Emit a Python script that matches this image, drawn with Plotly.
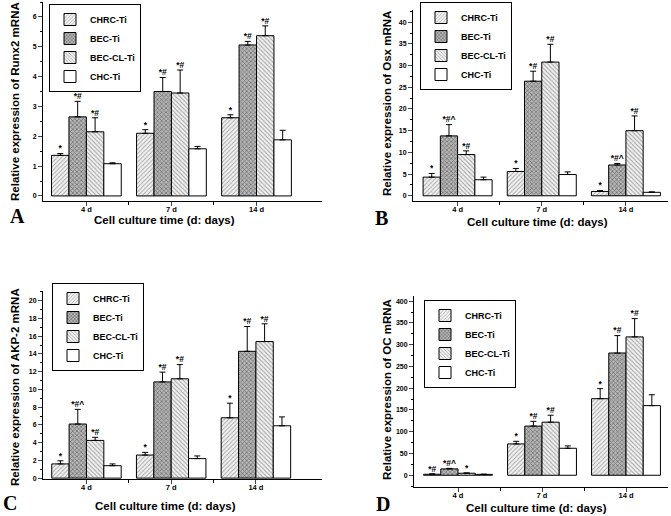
import plotly.graph_objects as go

# ---------------- data ----------------
times = ["4 d", "7 d", "14 d"]
groups = ["CHRC-Ti", "BEC-Ti", "BEC-CL-Ti", "CHC-Ti"]

runx2_vals = [[1.36, 2.10, 2.62], [2.65, 3.50, 5.06], [2.15, 3.45, 5.37], [1.08, 1.58, 1.88]]
runx2_errs = [[0.06, 0.12, 0.10], [0.52, 0.47, 0.12], [0.47, 0.77, 0.33], [0.03, 0.08, 0.32]]
runx2_marks = [["*", "*", "*"], ["*#", "*#", "*#"], ["*#", "*#", "*#"], ["", "", ""]]

osx_vals = [[4.3, 5.6, 1.0], [13.8, 26.4, 7.1], [9.5, 30.8, 15.0], [3.7, 4.9, 0.8]]
osx_errs = [[0.85, 0.7, 0.2], [2.6, 2.3, 0.35], [0.85, 4.1, 3.4], [0.6, 0.6, 0.1]]
osx_marks = [["*", "*", "*"], ["*#^", "*#", "*#^"], ["*#", "*#", "*#"], ["", "", ""]]

akp_vals = [[1.6, 2.6, 6.8], [6.1, 10.85, 14.3], [4.25, 11.2, 15.4], [1.4, 2.2, 5.9]]
akp_errs = [[0.35, 0.3, 1.65], [1.65, 1.1, 2.8], [0.35, 1.6, 2.0], [0.2, 0.3, 1.0]]
akp_marks = [["*", "*", "*"], ["*#^", "*#", "*#"], ["*#", "*#", "*#"], ["", "", ""]]

oc_vals = [[2.3, 72, 176], [14.6, 113, 281], [4.6, 122, 318], [2.0, 62, 160]]
oc_errs = [[1.0, 6, 23], [1.2, 11, 40], [0.8, 16, 42], [0.5, 5.5, 25]]
oc_marks = [["*#", "*", "*"], ["*#^", "*#", "*#"], ["*", "*#", "*#"], ["", "", ""]]

ytitles = ["Relative expression of Runx2 mRNA", "Relative expression of Osx mRNA",
           "Relative expression of AKP-2 mRNA", "Relative expression of OC mRNA"]
panel_letters = ["A", "B", "C", "D"]

# ---------------- styling ----------------
W, H = 671, 516
FONT = "Liberation Sans"
patterns = [
    dict(shape="/", fgcolor="#555555", bgcolor="#f2f2f2", size=3, solidity=0.3),
    dict(shape="x", fgcolor="#333333", bgcolor="#b5b5b5", size=3, solidity=0.45),
    dict(shape="\\", fgcolor="#555555", bgcolor="#f2f2f2", size=3, solidity=0.35),
    dict(shape="", fgcolor="white", bgcolor="white"),
]
bargap = 0.18
barw = (1 - bargap) / 4
xpos = [1, 2, 3]

# panel geometry in pixels: (x0, x1, ytop, ybottom), ranges
panels = [
    dict(px=(43, 322, 2, 201), xr=[0.49, 3.77], yr=[-0.17, 6.5], dtick=1, mdt=0.5,
         vals=runx2_vals, errs=runx2_errs, marks=runx2_marks,
         leg=(49, 4), ytit=(15, 102), xtit=(164, 220), letter=(17, 216)),
    dict(px=(413, 668, 10, 201), xr=[0.47, 3.5], yr=[-1.2, 42.8], dtick=5, mdt=2.5,
         vals=osx_vals, errs=osx_errs, marks=osx_marks,
         leg=(420, 2), ytit=(387, 104), xtit=(537, 222), letter=(382, 218)),
    dict(px=(43, 322, 291, 479), xr=[0.487, 3.78], yr=[-0.1, 21.1], dtick=2, mdt=1,
         vals=akp_vals, errs=akp_errs, marks=akp_marks,
         leg=(52, 283), ytit=(15, 387), xtit=(165, 506), letter=(10, 503)),
    dict(px=(414, 668, 296, 487), xr=[0.476, 3.5], yr=[-27, 412], dtick=50, mdt=25,
         vals=oc_vals, errs=oc_errs, marks=oc_marks,
         leg=(424, 300), ytit=(387, 390), xtit=(536, 508), letter=(383, 504)),
]

fig = go.Figure()
layout = dict(width=W, height=H, margin=dict(l=0, r=0, t=0, b=0, pad=0, autoexpand=False),
              paper_bgcolor="white", plot_bgcolor="white",
              barmode="group", bargap=bargap, bargroupgap=0,
              font=dict(family=FONT, color="black"), annotations=[])

for p_i, p in enumerate(panels):
    n = "" if p_i == 0 else str(p_i + 1)
    xa, ya = "x" + n, "y" + n
    legname = "legend" + n
    x0, x1, yt, yb = p["px"]
    for g_i, g in enumerate(groups):
        fig.add_trace(go.Bar(
            x=xpos, y=p["vals"][g_i], name=g, xaxis=xa, yaxis=ya,
            legend=legname, offsetgroup=str(g_i),
            marker=dict(color="white", line=dict(color="black", width=1),
                        pattern=patterns[g_i]),
            error_y=dict(type="data", symmetric=False, array=p["errs"][g_i],
                         arrayminus=[0, 0, 0], color="black", thickness=1, width=3),
        ))
        off = (g_i - 1.5) * barw
        fig.add_trace(go.Scatter(
            x=[x + off for x in xpos],
            y=[v + e for v, e in zip(p["vals"][g_i], p["errs"][g_i])],
            text=p["marks"][g_i], mode="text", textposition="top center",
            textfont=dict(size=8.5, family=FONT, weight="bold"),
            xaxis=xa, yaxis=ya, showlegend=False, hoverinfo="skip", cliponaxis=False,
        ))
    axfont = dict(size=7, family=FONT, weight="bold", color="black")
    layout["xaxis" + n] = dict(
        domain=[x0 / W, x1 / W], anchor=ya, range=p["xr"], automargin=False,
        tickvals=xpos, ticktext=times, ticks="outside", ticklen=4, tickwidth=1,
        ticklabelstandoff=-3,
        tickfont=dict(size=7.5, family=FONT, weight="bold", color="black"),
        showline=True, linecolor="black", linewidth=1, showgrid=False, zeroline=False,
        minor=dict(tickvals=[1.5, 2.5], ticks="outside", ticklen=3, tickcolor="black"),
    )
    layout["yaxis" + n] = dict(
        domain=[1 - yb / H, 1 - yt / H], anchor=xa, range=p["yr"], automargin=False,
        dtick=p["dtick"], tick0=0, ticks="outside", ticklen=4, tickwidth=1,
        tickfont=axfont, showline=True, linecolor="black", linewidth=1,
        showgrid=False, zeroline=False,
        minor=dict(dtick=p["mdt"], ticks="outside", ticklen=2, tickcolor="black"),
    )
    lx, ly = p["leg"]
    layout[legname] = dict(
        x=lx / W, y=1 - ly / H, xanchor="left", yanchor="top",
        bordercolor="black", borderwidth=1, bgcolor="white",
        font=dict(size=9, family=FONT, weight="bold", color="black"),
        tracegroupgap=0, itemwidth=30,
    )
    tx, ty = p["ytit"]
    layout["annotations"].append(dict(
        text=ytitles[p_i], x=tx / W, y=1 - ty / H, xref="paper", yref="paper",
        textangle=-90, showarrow=False, xanchor="center", yanchor="middle",
        font=dict(size=11.5, family=FONT, weight="bold")))
    cx, cy = p["xtit"]
    layout["annotations"].append(dict(
        text="Cell culture time (d: days)", x=cx / W, y=1 - cy / H,
        xref="paper", yref="paper", showarrow=False, xanchor="center", yanchor="middle",
        font=dict(size=11.5, family=FONT, weight="bold")))
    lx2, ly2 = p["letter"]
    layout["annotations"].append(dict(
        text=panel_letters[p_i], x=lx2 / W, y=1 - ly2 / H,
        xref="paper", yref="paper", showarrow=False, xanchor="center", yanchor="middle",
        font=dict(size=20, family="Liberation Serif", weight="bold")))

fig.update_layout(**layout)
fig.write_html("out.html", config={"displayModeBar": False},
               post_script="document.body.style.margin='0px';document.body.style.padding='0px';")
